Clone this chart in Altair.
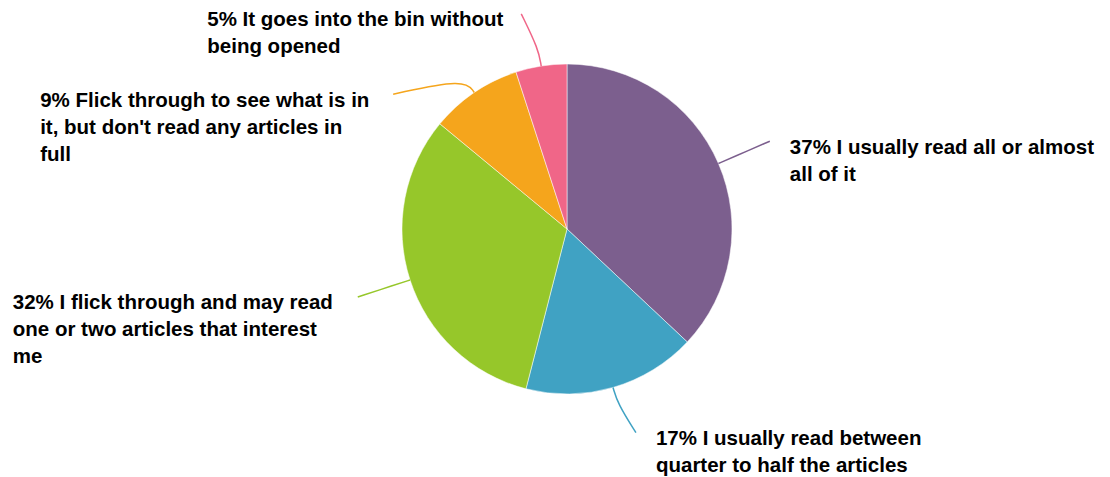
import math
import altair as alt
import pandas as pd

# ---- data ----
categories = [
    "I usually read all or almost all of it",
    "I usually read between quarter to half the articles",
    "I flick through and may read one or two articles that interest me",
    "Flick through to see what is in it, but don't read any articles in full",
    "It goes into the bin without being opened",
]
values = [37, 17, 32, 9, 5]
label_lines = [
    "37% I usually read all or almost\nall of it",
    "17% I usually read between\nquarter to half the articles",
    "32% I flick through and may read\none or two articles that interest\nme",
    "9% Flick through to see what is in\nit, but don't read any articles in\nfull",
    "5% It goes into the bin without\nbeing opened",
]
colors = ["#7C5F8E", "#40A2C3", "#96C72A", "#F5A51C", "#F06688"]

# ---- layout (pixels, chart coordinates) ----
W, H = 1094, 469
CX, CY, R = 559, 221, 165
R_BEND = 182
end_radius = [221, 215, 220, 220, 220]
end_shift = [0, -2.5, 0, -18, -3]          # degrees, label displacement
side = ["right", "right", "left", "left", "left"]
left_offset = [0, 0, 345, 353, 314]          # text block offset for left labels

total = sum(values)
rows, line_rows, text_rows = [], [], []
cum = 0.0
for i, (c, v) in enumerate(zip(categories, values)):
    mid = (cum + v / 2) / total * 360.0
    cum += v
    rows.append({"idx": i, "category": c, "value": v})

    def pt(r, a):
        rad = math.radians(a)
        return CX + r * math.sin(rad), CY - r * math.cos(rad)

    p0 = pt(R, mid)
    p1 = pt(R_BEND, mid)
    p2 = pt(end_radius[i], mid + end_shift[i])
    for k, p in enumerate([p0, p1, p2]):
        line_rows.append({"category": c, "k": k, "px": p[0], "py": p[1]})
    tx = p2[0] + 20 if side[i] == "right" else p2[0] - left_offset[i]
    text_rows.append({"category": c, "label": label_lines[i], "px": tx, "py": p2[1] + 12.5})

df = pd.DataFrame(rows)
df_line = pd.DataFrame(line_rows)
df_text = pd.DataFrame(text_rows)

color_scale = alt.Scale(domain=categories, range=colors)
xs = alt.Scale(domain=[0, W], range=[0, W])
ys = alt.Scale(domain=[0, H], range=[0, H])

pie = alt.Chart(df).mark_arc(radius=R, stroke="#ffffff", strokeWidth=0.5).encode(
    theta=alt.Theta("value:Q", stack=True),
    color=alt.Color("category:N", scale=color_scale, legend=None),
    order=alt.Order("idx:Q"),
    x=alt.value(CX),
    y=alt.value(CY),
)

connectors = alt.Chart(df_line).mark_line(interpolate="basis", strokeWidth=1.5).encode(
    x=alt.X("px:Q", scale=xs, axis=None),
    y=alt.Y("py:Q", scale=ys, axis=None),
    color=alt.Color("category:N", scale=color_scale, legend=None),
    detail="category:N",
    order="k:Q",
)

labels = alt.Chart(df_text).mark_text(
    align="left", baseline="alphabetic", font="Liberation Sans", fontWeight="bold",
    fontSize=20.5, lineBreak="\n", lineHeight=27, color="#000000",
).encode(
    x=alt.X("px:Q", scale=xs, axis=None),
    y=alt.Y("py:Q", scale=ys, axis=None),
    text="label:N",
)

chart = alt.layer(pie, connectors, labels).properties(
    width=W, height=H, padding=0, autosize=alt.AutoSizeParams(type="none"),
    background="#ffffff",
).configure_view(stroke=None)

chart.save("out.html", embed_options={"renderer": "svg", "actions": False})
